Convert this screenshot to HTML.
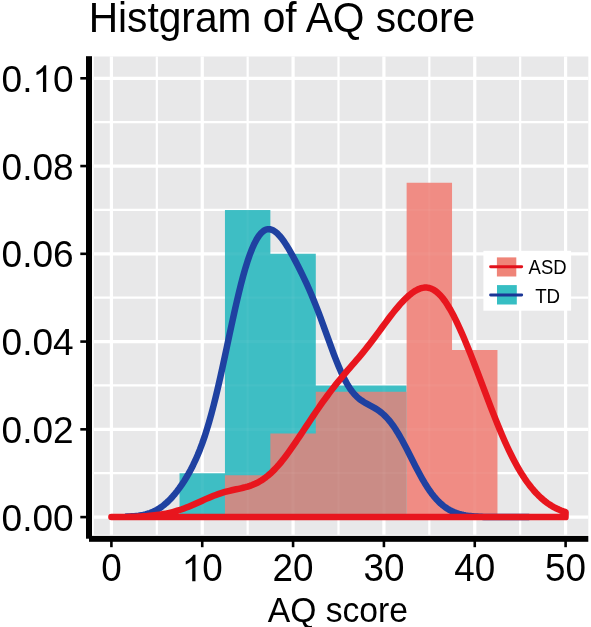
<!DOCTYPE html>
<html><head><meta charset="utf-8"><style>
html,body{margin:0;padding:0;background:#fff;}
body{width:591px;height:627px;overflow:hidden;}
svg{display:block;}
text{font-family:"Liberation Sans",sans-serif;fill:#000;}
</style></head><body>
<div style="will-change:transform"><svg width="591" height="627" viewBox="0 0 591 627">
<rect x="0" y="0" width="591" height="627" fill="#fff"/>
<text transform="translate(88.7,31.85) scale(0.9687,1)" style="font-size:42px">Histgram of AQ score</text>
<rect x="93.8" y="56.5" width="494.5" height="478.3" fill="#E8E8E9"/>
<line x1="156.82" y1="56.5" x2="156.82" y2="534.8" stroke="#fff" stroke-width="2.2"/>
<line x1="247.66" y1="56.5" x2="247.66" y2="534.8" stroke="#fff" stroke-width="2.2"/>
<line x1="338.50" y1="56.5" x2="338.50" y2="534.8" stroke="#fff" stroke-width="2.2"/>
<line x1="429.34" y1="56.5" x2="429.34" y2="534.8" stroke="#fff" stroke-width="2.2"/>
<line x1="520.18" y1="56.5" x2="520.18" y2="534.8" stroke="#fff" stroke-width="2.2"/>
<line x1="93.8" y1="473.22" x2="588.3" y2="473.22" stroke="#fff" stroke-width="2.2"/>
<line x1="93.8" y1="385.46" x2="588.3" y2="385.46" stroke="#fff" stroke-width="2.2"/>
<line x1="93.8" y1="297.70" x2="588.3" y2="297.70" stroke="#fff" stroke-width="2.2"/>
<line x1="93.8" y1="209.94" x2="588.3" y2="209.94" stroke="#fff" stroke-width="2.2"/>
<line x1="93.8" y1="122.18" x2="588.3" y2="122.18" stroke="#fff" stroke-width="2.2"/>
<line x1="111.40" y1="56.5" x2="111.40" y2="534.8" stroke="#fff" stroke-width="3.2"/>
<line x1="202.24" y1="56.5" x2="202.24" y2="534.8" stroke="#fff" stroke-width="3.2"/>
<line x1="293.08" y1="56.5" x2="293.08" y2="534.8" stroke="#fff" stroke-width="3.2"/>
<line x1="383.92" y1="56.5" x2="383.92" y2="534.8" stroke="#fff" stroke-width="3.2"/>
<line x1="474.76" y1="56.5" x2="474.76" y2="534.8" stroke="#fff" stroke-width="3.2"/>
<line x1="565.60" y1="56.5" x2="565.60" y2="534.8" stroke="#fff" stroke-width="3.2"/>
<line x1="93.8" y1="517.10" x2="588.3" y2="517.10" stroke="#fff" stroke-width="3.2"/>
<line x1="93.8" y1="429.34" x2="588.3" y2="429.34" stroke="#fff" stroke-width="3.2"/>
<line x1="93.8" y1="341.58" x2="588.3" y2="341.58" stroke="#fff" stroke-width="3.2"/>
<line x1="93.8" y1="253.82" x2="588.3" y2="253.82" stroke="#fff" stroke-width="3.2"/>
<line x1="93.8" y1="166.06" x2="588.3" y2="166.06" stroke="#fff" stroke-width="3.2"/>
<line x1="93.8" y1="78.30" x2="588.3" y2="78.30" stroke="#fff" stroke-width="3.2"/>
<path d="M179.53,517.10 L179.53,473.22 L224.95,473.22 L224.95,209.94 L270.37,209.94 L270.37,253.82 L315.79,253.82 L315.79,385.46 L406.63,385.46 L406.63,517.10 Z" fill="#3EBEC4"/>
<path d="M224.95,517.10 L224.95,475.31 L270.37,475.31 L270.37,433.52 L315.79,433.52 L315.79,391.73 L406.63,391.73 L406.63,517.10 Z" fill="#CA8C86"/>
<path d="M406.63,517.10 L406.63,182.78 L452.05,182.78 L452.05,349.94 L497.47,349.94 L497.47,517.10 Z" fill="#F08C84"/>
<line x1="156.82" y1="56.5" x2="156.82" y2="534.8" stroke="#fff" stroke-width="2.2" stroke-opacity="0.04"/>
<line x1="247.66" y1="56.5" x2="247.66" y2="534.8" stroke="#fff" stroke-width="2.2" stroke-opacity="0.04"/>
<line x1="338.50" y1="56.5" x2="338.50" y2="534.8" stroke="#fff" stroke-width="2.2" stroke-opacity="0.04"/>
<line x1="429.34" y1="56.5" x2="429.34" y2="534.8" stroke="#fff" stroke-width="2.2" stroke-opacity="0.04"/>
<line x1="520.18" y1="56.5" x2="520.18" y2="534.8" stroke="#fff" stroke-width="2.2" stroke-opacity="0.04"/>
<line x1="93.8" y1="473.22" x2="588.3" y2="473.22" stroke="#fff" stroke-width="2.2" stroke-opacity="0.04"/>
<line x1="93.8" y1="385.46" x2="588.3" y2="385.46" stroke="#fff" stroke-width="2.2" stroke-opacity="0.04"/>
<line x1="93.8" y1="297.70" x2="588.3" y2="297.70" stroke="#fff" stroke-width="2.2" stroke-opacity="0.04"/>
<line x1="93.8" y1="209.94" x2="588.3" y2="209.94" stroke="#fff" stroke-width="2.2" stroke-opacity="0.04"/>
<line x1="93.8" y1="122.18" x2="588.3" y2="122.18" stroke="#fff" stroke-width="2.2" stroke-opacity="0.04"/>
<line x1="111.40" y1="56.5" x2="111.40" y2="534.8" stroke="#fff" stroke-width="3.2" stroke-opacity="0.04"/>
<line x1="202.24" y1="56.5" x2="202.24" y2="534.8" stroke="#fff" stroke-width="3.2" stroke-opacity="0.04"/>
<line x1="293.08" y1="56.5" x2="293.08" y2="534.8" stroke="#fff" stroke-width="3.2" stroke-opacity="0.04"/>
<line x1="383.92" y1="56.5" x2="383.92" y2="534.8" stroke="#fff" stroke-width="3.2" stroke-opacity="0.04"/>
<line x1="474.76" y1="56.5" x2="474.76" y2="534.8" stroke="#fff" stroke-width="3.2" stroke-opacity="0.04"/>
<line x1="565.60" y1="56.5" x2="565.60" y2="534.8" stroke="#fff" stroke-width="3.2" stroke-opacity="0.04"/>
<line x1="93.8" y1="517.10" x2="588.3" y2="517.10" stroke="#fff" stroke-width="3.2" stroke-opacity="0.04"/>
<line x1="93.8" y1="429.34" x2="588.3" y2="429.34" stroke="#fff" stroke-width="3.2" stroke-opacity="0.04"/>
<line x1="93.8" y1="341.58" x2="588.3" y2="341.58" stroke="#fff" stroke-width="3.2" stroke-opacity="0.04"/>
<line x1="93.8" y1="253.82" x2="588.3" y2="253.82" stroke="#fff" stroke-width="3.2" stroke-opacity="0.04"/>
<line x1="93.8" y1="166.06" x2="588.3" y2="166.06" stroke="#fff" stroke-width="3.2" stroke-opacity="0.04"/>
<line x1="93.8" y1="78.30" x2="588.3" y2="78.30" stroke="#fff" stroke-width="3.2" stroke-opacity="0.04"/>
<path d="M125.03,516.68 L127.30,516.59 L129.57,516.47 L131.84,516.33 L134.11,516.15 L136.38,515.92 L138.65,515.64 L140.92,515.29 L143.19,514.86 L145.47,514.34 L147.74,513.71 L150.01,512.97 L152.28,512.09 L154.55,511.06 L156.82,509.87 L159.09,508.52 L161.36,506.98 L163.63,505.26 L165.90,503.35 L168.18,501.24 L170.45,498.95 L172.72,496.46 L174.99,493.78 L177.26,490.92 L179.53,487.87 L181.80,484.62 L184.07,481.17 L186.34,477.50 L188.61,473.60 L190.88,469.44 L193.16,464.98 L195.43,460.19 L197.70,455.03 L199.97,449.45 L202.24,443.43 L204.51,436.91 L206.78,429.87 L209.05,422.30 L211.32,414.18 L213.59,405.54 L215.87,396.39 L218.14,386.80 L220.41,376.80 L222.68,366.50 L224.95,355.97 L227.22,345.32 L229.49,334.65 L231.76,324.07 L234.03,313.70 L236.31,303.63 L238.58,293.96 L240.85,284.79 L243.12,276.18 L245.39,268.19 L247.66,260.89 L249.93,254.31 L252.20,248.49 L254.47,243.43 L256.74,239.14 L259.01,235.64 L261.29,232.91 L263.56,230.94 L265.83,229.70 L268.10,229.17 L270.37,229.31 L272.64,230.07 L274.91,231.42 L277.18,233.29 L279.45,235.64 L281.73,238.40 L284.00,241.52 L286.27,244.95 L288.54,248.64 L290.81,252.53 L293.08,256.61 L295.35,260.84 L297.62,265.21 L299.89,269.70 L302.16,274.32 L304.44,279.07 L306.71,283.98 L308.98,289.04 L311.25,294.29 L313.52,299.73 L315.79,305.36 L318.06,311.18 L320.33,317.18 L322.60,323.32 L324.87,329.57 L327.14,335.89 L329.42,342.20 L331.69,348.44 L333.96,354.54 L336.23,360.44 L338.50,366.05 L340.77,371.34 L343.04,376.23 L345.31,380.71 L347.58,384.75 L349.86,388.33 L352.13,391.48 L354.40,394.22 L356.67,396.57 L358.94,398.59 L361.21,400.32 L363.48,401.83 L365.75,403.18 L368.02,404.42 L370.29,405.62 L372.56,406.84 L374.84,408.12 L377.11,409.53 L379.38,411.09 L381.65,412.85 L383.92,414.84 L386.19,417.08 L388.46,419.59 L390.73,422.38 L393.00,425.45 L395.27,428.79 L397.55,432.39 L399.82,436.23 L402.09,440.28 L404.36,444.50 L406.63,448.86 L408.90,453.30 L411.17,457.79 L413.44,462.28 L415.71,466.71 L417.99,471.06 L420.26,475.27 L422.53,479.33 L424.80,483.19 L427.07,486.83 L429.34,490.24 L431.61,493.40 L433.88,496.31 L436.15,498.97 L438.42,501.39 L440.69,503.56 L442.97,505.50 L445.24,507.23 L447.51,508.75 L449.78,510.08 L452.05,511.23 L454.32,512.23 L456.59,513.08 L458.86,513.81 L461.13,514.43 L463.40,514.94 L465.68,515.37 L467.95,515.72 L470.22,516.01 L472.49,516.25 L474.76,516.44 L477.03,516.59 L479.30,516.71 L481.57,516.81 L483.84,516.88 L486.12,516.94 L488.39,516.98 L490.66,517.01 L492.93,517.04 L495.20,517.05 L497.47,517.07 L499.74,517.08 L502.01,517.08 L504.28,517.09 L506.55,517.09 L508.83,517.09 L511.10,517.10 L513.37,517.10 L515.64,517.10 L517.91,517.10 L520.18,517.10 L522.45,517.10 L524.72,517.10 L526.99,517.10 L529.26,517.10" fill="none" stroke="#1F41A1" stroke-width="6.5" stroke-linejoin="round" stroke-linecap="butt"/>
<path d="M111.40,517.06 L113.67,517.05 L115.94,517.03 L118.21,517.02 L120.48,516.99 L122.76,516.97 L125.03,516.93 L127.30,516.90 L129.57,516.85 L131.84,516.79 L134.11,516.72 L136.38,516.65 L138.65,516.55 L140.92,516.44 L143.19,516.32 L145.47,516.17 L147.74,516.01 L150.01,515.81 L152.28,515.60 L154.55,515.35 L156.82,515.07 L159.09,514.76 L161.36,514.41 L163.63,514.02 L165.90,513.59 L168.18,513.12 L170.45,512.60 L172.72,512.03 L174.99,511.41 L177.26,510.74 L179.53,510.02 L181.80,509.26 L184.07,508.44 L186.34,507.58 L188.61,506.68 L190.88,505.73 L193.16,504.76 L195.43,503.76 L197.70,502.74 L199.97,501.71 L202.24,500.68 L204.51,499.65 L206.78,498.64 L209.05,497.65 L211.32,496.70 L213.59,495.78 L215.87,494.92 L218.14,494.10 L220.41,493.34 L222.68,492.63 L224.95,491.98 L227.22,491.37 L229.49,490.81 L231.76,490.29 L234.03,489.79 L236.31,489.30 L238.58,488.82 L240.85,488.32 L243.12,487.78 L245.39,487.20 L247.66,486.56 L249.93,485.83 L252.20,485.01 L254.47,484.07 L256.74,483.01 L259.01,481.82 L261.29,480.48 L263.56,478.99 L265.83,477.33 L268.10,475.52 L270.37,473.54 L272.64,471.40 L274.91,469.10 L277.18,466.65 L279.45,464.05 L281.73,461.31 L284.00,458.44 L286.27,455.46 L288.54,452.38 L290.81,449.20 L293.08,445.95 L295.35,442.64 L297.62,439.28 L299.89,435.88 L302.16,432.46 L304.44,429.03 L306.71,425.60 L308.98,422.18 L311.25,418.77 L313.52,415.39 L315.79,412.04 L318.06,408.73 L320.33,405.46 L322.60,402.24 L324.87,399.07 L327.14,395.96 L329.42,392.90 L331.69,389.90 L333.96,386.97 L336.23,384.09 L338.50,381.27 L340.77,378.50 L343.04,375.78 L345.31,373.09 L347.58,370.45 L349.86,367.82 L352.13,365.20 L354.40,362.57 L356.67,359.93 L358.94,357.27 L361.21,354.56 L363.48,351.81 L365.75,349.00 L368.02,346.14 L370.29,343.22 L372.56,340.25 L374.84,337.23 L377.11,334.17 L379.38,331.09 L381.65,327.99 L383.92,324.90 L386.19,321.83 L388.46,318.79 L390.73,315.80 L393.00,312.88 L395.27,310.04 L397.55,307.30 L399.82,304.67 L402.09,302.16 L404.36,299.79 L406.63,297.57 L408.90,295.52 L411.17,293.66 L413.44,292.00 L415.71,290.57 L417.99,289.39 L420.26,288.48 L422.53,287.87 L424.80,287.58 L427.07,287.62 L429.34,288.02 L431.61,288.79 L433.88,289.95 L436.15,291.50 L438.42,293.43 L440.69,295.76 L442.97,298.46 L445.24,301.53 L447.51,304.95 L449.78,308.70 L452.05,312.76 L454.32,317.10 L456.59,321.69 L458.86,326.52 L461.13,331.56 L463.40,336.79 L465.68,342.18 L467.95,347.72 L470.22,353.37 L472.49,359.14 L474.76,364.99 L477.03,370.91 L479.30,376.88 L481.57,382.88 L483.84,388.89 L486.12,394.90 L488.39,400.87 L490.66,406.80 L492.93,412.66 L495.20,418.42 L497.47,424.08 L499.74,429.60 L502.01,434.98 L504.28,440.20 L506.55,445.25 L508.83,450.11 L511.10,454.78 L513.37,459.25 L515.64,463.52 L517.91,467.58 L520.18,471.44 L522.45,475.10 L524.72,478.56 L526.99,481.82 L529.26,484.89 L531.53,487.76 L533.81,490.46 L536.08,492.98 L538.35,495.32 L540.62,497.50 L542.89,499.51 L545.16,501.37 L547.43,503.07 L549.70,504.63 L551.97,506.05 L554.25,507.34 L556.52,508.50 L558.79,509.55 L561.06,510.48 L563.33,511.32 L565.60,512.05 L565.5,517.1 L111.4,517.1 Z" fill="none" stroke="#E8161E" stroke-width="6.5" stroke-linejoin="round" stroke-linecap="round"/>

<rect x="483.4" y="250.8" width="87.7" height="59.9" fill="#fff"/>
<rect x="496.9" y="257.4" width="19.4" height="19.1" fill="#EF8478"/>
<line x1="490.6" y1="266.7" x2="521.7" y2="266.7" stroke="#E2101A" stroke-width="2.9" stroke-linecap="round"/>
<rect x="497.0" y="285.1" width="19.8" height="19.4" fill="#36BEC3"/>
<line x1="490.6" y1="295.0" x2="521.7" y2="295.0" stroke="#1A3596" stroke-width="2.9" stroke-linecap="round"/>
<text transform="translate(547.6,273.9) scale(0.955,1)" text-anchor="middle" style="font-size:19.4px">ASD</text>
<text transform="translate(547.65,302.8) scale(0.965,1)" text-anchor="middle" style="font-size:19.4px">TD</text>

<line x1="80.3" y1="517.10" x2="87" y2="517.10" stroke="#000" stroke-width="2.6"/>
<line x1="80.3" y1="429.34" x2="87" y2="429.34" stroke="#000" stroke-width="2.6"/>
<line x1="80.3" y1="341.58" x2="87" y2="341.58" stroke="#000" stroke-width="2.6"/>
<line x1="80.3" y1="253.82" x2="87" y2="253.82" stroke="#000" stroke-width="2.6"/>
<line x1="80.3" y1="166.06" x2="87" y2="166.06" stroke="#000" stroke-width="2.6"/>
<line x1="80.3" y1="78.30" x2="87" y2="78.30" stroke="#000" stroke-width="2.6"/>
<line x1="111.40" y1="540" x2="111.40" y2="547.2" stroke="#000" stroke-width="2.6"/>
<line x1="202.24" y1="540" x2="202.24" y2="547.2" stroke="#000" stroke-width="2.6"/>
<line x1="293.08" y1="540" x2="293.08" y2="547.2" stroke="#000" stroke-width="2.6"/>
<line x1="383.92" y1="540" x2="383.92" y2="547.2" stroke="#000" stroke-width="2.6"/>
<line x1="474.76" y1="540" x2="474.76" y2="547.2" stroke="#000" stroke-width="2.6"/>
<line x1="565.60" y1="540" x2="565.60" y2="547.2" stroke="#000" stroke-width="2.6"/>
<rect x="86" y="56.2" width="6" height="482.5" fill="#000"/>
<rect x="89" y="535.9" width="499.3" height="5.9" fill="#000"/>
<g transform="translate(1.55,530.70) scale(0.9780,1)"><text x="0.00" y="0" style="font-size:37.85px">0</text><text x="21.05" y="0" style="font-size:37.85px">.</text><text x="31.57" y="0" style="font-size:37.85px">0</text><text x="52.62" y="0" style="font-size:37.85px">0</text></g>
<g transform="translate(1.55,442.94) scale(0.9780,1)"><text x="0.00" y="0" style="font-size:37.85px">0</text><text x="21.05" y="0" style="font-size:37.85px">.</text><text x="31.57" y="0" style="font-size:37.85px">0</text><text x="52.62" y="0" style="font-size:37.85px">2</text></g>
<g transform="translate(1.55,355.18) scale(0.9780,1)"><text x="0.00" y="0" style="font-size:37.85px">0</text><text x="21.05" y="0" style="font-size:37.85px">.</text><text x="31.57" y="0" style="font-size:37.85px">0</text><text x="52.62" y="0" style="font-size:37.85px">4</text></g>
<g transform="translate(1.55,267.42) scale(0.9780,1)"><text x="0.00" y="0" style="font-size:37.85px">0</text><text x="21.05" y="0" style="font-size:37.85px">.</text><text x="31.57" y="0" style="font-size:37.85px">0</text><text x="52.62" y="0" style="font-size:37.85px">6</text></g>
<g transform="translate(1.55,179.66) scale(0.9780,1)"><text x="0.00" y="0" style="font-size:37.85px">0</text><text x="21.05" y="0" style="font-size:37.85px">.</text><text x="31.57" y="0" style="font-size:37.85px">0</text><text x="52.62" y="0" style="font-size:37.85px">8</text></g>
<g transform="translate(1.55,91.90) scale(0.9780,1)"><text x="0.00" y="0" style="font-size:37.85px">0</text><text x="21.05" y="0" style="font-size:37.85px">.</text><path transform="translate(31.57,0) scale(0.01848,-0.01807)" d="M763,0 L583,0 L583,1147 C540,1106 483,1064 413,1023 C342,982 279,951 223,931 L223,1105 C324,1152 412,1210 487,1277 C562,1344 615,1409 646,1472 L763,1472 Z"/><text x="52.62" y="0" style="font-size:37.85px">0</text></g>
<g transform="translate(101.15,581.20) scale(0.9700,1)"><text x="0.00" y="0" style="font-size:38.00px">0</text></g>
<g transform="translate(181.74,581.20) scale(0.9700,1)"><path transform="translate(0.00,0) scale(0.01855,-0.01800)" d="M763,0 L583,0 L583,1147 C540,1106 483,1064 413,1023 C342,982 279,951 223,931 L223,1105 C324,1152 412,1210 487,1277 C562,1344 615,1409 646,1472 L763,1472 Z"/><text x="21.13" y="0" style="font-size:38.00px">0</text></g>
<g transform="translate(272.58,581.20) scale(0.9700,1)"><text x="0.00" y="0" style="font-size:38.00px">2</text><text x="21.13" y="0" style="font-size:38.00px">0</text></g>
<g transform="translate(363.42,581.20) scale(0.9700,1)"><text x="0.00" y="0" style="font-size:38.00px">3</text><text x="21.13" y="0" style="font-size:38.00px">0</text></g>
<g transform="translate(454.26,581.20) scale(0.9700,1)"><text x="0.00" y="0" style="font-size:38.00px">4</text><text x="21.13" y="0" style="font-size:38.00px">0</text></g>
<g transform="translate(545.10,581.20) scale(0.9700,1)"><text x="0.00" y="0" style="font-size:38.00px">5</text><text x="21.13" y="0" style="font-size:38.00px">0</text></g>
<text transform="translate(267.7,621.7) scale(0.962,1)" style="font-size:35px">AQ score</text>
</svg></div>
</body></html>
